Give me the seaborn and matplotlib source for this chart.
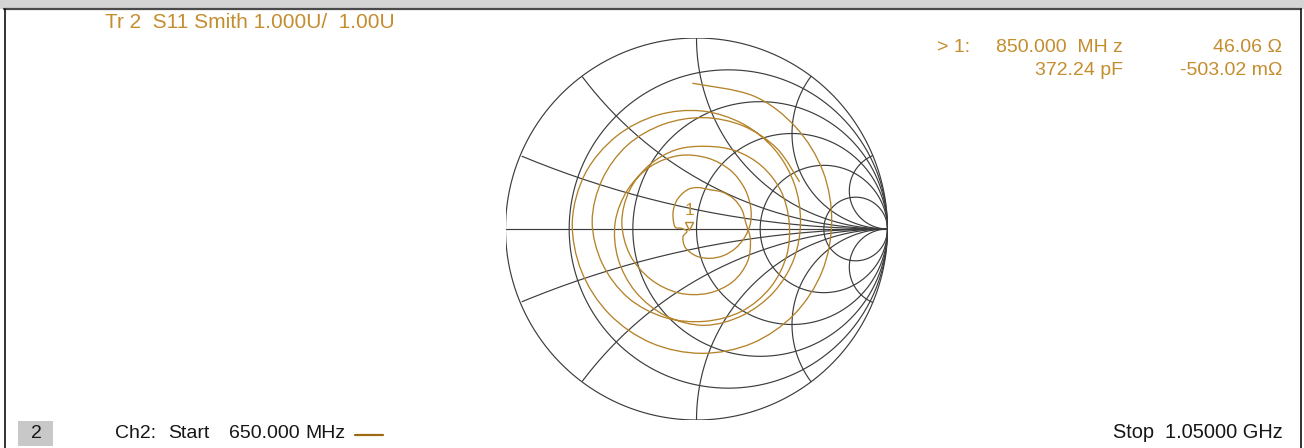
import numpy as np
import matplotlib
matplotlib.use("Agg")
import matplotlib.pyplot as plt
import matplotlib.transforms as mtransforms
from matplotlib.patches import Rectangle, PathPatch
from matplotlib.lines import Line2D
from matplotlib.path import Path
import seaborn as sns

sns.set_theme(style="white")
plt.rcParams['font.family'] = ['Liberation Sans', 'DejaVu Sans']

# Smith chart grid values
resistance_circles = [0.2, 0.5, 1.0, 2.0, 5.0]
reactance_arcs = [0.2, 0.5, 1.0, 2.0, 5.0]

gamma_re = [-0.022, 0.2995, 0.5206, 0.6623, 0.7077, 0.6574, 0.5120, 0.2909,
            0.0271, -0.2361, -0.4567, -0.6017, -0.6501, -0.5824, -0.4197, -0.2040,
            0.0279, 0.2421, 0.4091, 0.5120, 0.5445, 0.5091, 0.4049, 0.2426,
            0.0419, -0.1600, -0.3187, -0.4108, -0.4258, -0.3606, -0.2414, -0.0914,
            0.0576, 0.1759, 0.2497, 0.2825, 0.2827, 0.2520, 0.2031, 0.1407,
            0.0698, -0.0016, -0.0585, -0.071, -0.050, -0.080, -0.113, -0.123,
            -0.102, -0.050, 0.005,
            0.0698, 0.1366, 0.1956, 0.2373, 0.2583, 0.2822, 0.2665, 0.1894,
            0.0593, -0.0948, -0.2403, -0.3490, -0.3909, -0.3508, -0.2475, -0.1052,
            0.0524, 0.2056, 0.3426, 0.4422, 0.4852, 0.4717, 0.3867, 0.2365,
            0.0419, -0.1660, -0.3572, -0.4928, -0.5462, -0.4937, -0.3623, -0.1743,
            0.0366, 0.2443, 0.4204, 0.5398]
gamma_im = [0.763, 0.6962, 0.5319, 0.3016, 0.0384, -0.2227, -0.4466, -0.5984,
            -0.6510, -0.5969, -0.4454, -0.2222, 0.0384, 0.2909, 0.4852, 0.5963,
            0.6178, 0.5511, 0.4161, 0.2368, 0.0384, -0.1590, -0.3298, -0.4518,
            -0.5044, -0.4551, -0.3291, -0.1548, 0.0349, 0.2052, 0.3269, 0.3846,
            0.3717, 0.3087, 0.2166, 0.1202, 0.0314, -0.0440, -0.1019, -0.1394,
            -0.1536, -0.1412, -0.0969, -0.042, -0.012, 0.004, 0.012, 0.084,
            0.152, 0.204, 0.217,
            0.2059, 0.1927, 0.1572, 0.1016, 0.0314, -0.0588, -0.1723, -0.2764,
            -0.3368, -0.3344, -0.2630, -0.1339, 0.0349, 0.2019, 0.3347, 0.4154,
            0.4328, 0.4089, 0.3286, 0.1986, 0.0349, -0.1403, -0.3065, -0.4309,
            -0.4834, -0.4632, -0.3607, -0.1820, 0.0384, 0.2588, 0.4382, 0.5478,
            0.5829, 0.5398, 0.4222, 0.2468]

# marker 1 readout
z0 = 50.0
marker_r = 46.06
marker_x = -0.50302

# footer words with their left edges on screen
start_words = ['Ch2:', 'Start', '650.000', 'MHz']
start_x = [115, 168, 229, 305]

trace_color = '#B5832A'
text_orange = '#C48D2E'
grid_color = '#3c3c3c'
text_black = '#161616'

W, H = 1304, 448
fig = plt.figure(figsize=(W / 100, H / 100), dpi=100)
fig.patch.set_facecolor('white')


def fx(px):
    return px / W


def fy(py):
    return 1 - py / H


# window frame
fig.add_artist(Rectangle((0, fy(9)), 1, 9 / H, transform=fig.transFigure,
                         facecolor='#d4d4d4', edgecolor='none'))
fig.add_artist(Line2D([fx(4), fx(1301)], [fy(9.5), fy(9.5)], transform=fig.transFigure,
                      color='#4a4a4a', lw=1.6))
fig.add_artist(Line2D([fx(4.5), fx(4.5)], [fy(9.5), 0], transform=fig.transFigure,
                      color='#111111', lw=1.2))
fig.add_artist(Line2D([fx(1300.5), fx(1300.5)], [fy(9.5), 0], transform=fig.transFigure,
                      color='#111111', lw=1.2))

# Smith chart axes
cx, cy, rad = 696.5, 229, 191
ax = fig.add_axes([fx(cx - rad), fy(cy + rad), 2 * rad / W, 2 * rad / H])

t = np.linspace(0, 2 * np.pi, 1441)
grid_kw = dict(color=grid_color, lw=0.85, zorder=1)
ax.plot(np.cos(t), np.sin(t), **grid_kw)
ax.plot([-1, 1], [0, 0], **grid_kw)
for r in resistance_circles:
    c = r / (1 + r)
    rr = 1 / (1 + r)
    ax.plot(c + rr * np.cos(t), rr * np.sin(t), **grid_kw)
for x in reactance_arcs:
    for sgn in (1, -1):
        k = 1 / x
        px = 1 + k * np.cos(t)
        py = sgn * k + k * np.sin(t)
        inside = px ** 2 + py ** 2 <= 1.0 + 1e-9
        ax.plot(np.where(inside, px, np.nan), np.where(inside, py, np.nan), **grid_kw)

# trace: seaborn places the points, a smooth path joins them
trace = {'re': gamma_re, 'im': gamma_im}
sns.lineplot(data=trace, x='re', y='im', sort=False, estimator=None,
             color=trace_color, lw=0, ax=ax)
pts = np.column_stack([gamma_re, gamma_im])
ext = np.vstack([pts[0], pts, pts[-1]])
verts = [tuple(pts[0])]
codes = [Path.MOVETO]
for i in range(1, len(ext) - 2):
    p0, p1, p2, p3 = ext[i - 1], ext[i], ext[i + 1], ext[i + 2]
    verts += [tuple(p1 + (p2 - p0) / 6), tuple(p2 - (p3 - p1) / 6), tuple(p2)]
    codes += [Path.CURVE4] * 3
ax.add_patch(PathPatch(Path(verts, codes), fill=False, ec=trace_color, lw=0.95, zorder=2))

ax.set_xlim(-1, 1)
ax.set_ylim(-1, 1)
ax.axis('off')

# marker 1
zn = complex(marker_r, marker_x) / z0
g = (zn - 1) / (zn + 1)
tri = mtransforms.offset_copy(ax.transData, fig=fig, x=0, y=4, units='dots')
ax.plot([g.real], [g.imag], marker='v', ms=5.5, mfc='none', mec=trace_color,
        mew=1.0, transform=tri, clip_on=False, zorder=3)
ax.text(g.real, g.imag, '1',
        transform=mtransforms.offset_copy(ax.transData, fig=fig, x=1, y=15, units='dots'),
        color=text_orange, fontsize=12.5, ha='center', va='baseline')

# texts
fig.text(fx(105), fy(28), 'Tr 2  S11 Smith 1.000U/  1.00U', color=text_orange,
         fontsize=15, va='baseline', ha='left')
fs = 14.0
fig.text(fx(937), fy(52), '> 1:', color=text_orange, fontsize=fs, va='baseline', ha='left')
fig.text(fx(1123), fy(52), '850.000  MH z', color=text_orange, fontsize=fs, va='baseline', ha='right')
fig.text(fx(1282), fy(52), '46.06 Ω', color=text_orange, fontsize=fs, va='baseline', ha='right')
fig.text(fx(1123), fy(75), '372.24 pF', color=text_orange, fontsize=fs, va='baseline', ha='right')
fig.text(fx(1282), fy(75), '-503.02 mΩ', color=text_orange, fontsize=fs, va='baseline', ha='right')

fig.add_artist(Rectangle((fx(18), fy(446)), 35 / W, 25 / H, transform=fig.transFigure,
                         facecolor='#c8c8c8', edgecolor='none'))
fig.text(fx(36), fy(438), '2', color=text_black, fontsize=fs, va='baseline', ha='center')
for word, xpos in zip(start_words, start_x):
    fig.text(fx(xpos), fy(438), word, color=text_black, fontsize=fs, va='baseline', ha='left')
fig.add_artist(Line2D([fx(355), fx(383)], [fy(435), fy(435)], transform=fig.transFigure,
                      color='#9c6a12', lw=1.6))
fig.text(fx(1283), fy(438), 'Stop  1.05000 GHz', color=text_black, fontsize=14.4,
         va='baseline', ha='right')

fig.savefig('out.png', dpi=100, facecolor='white')
